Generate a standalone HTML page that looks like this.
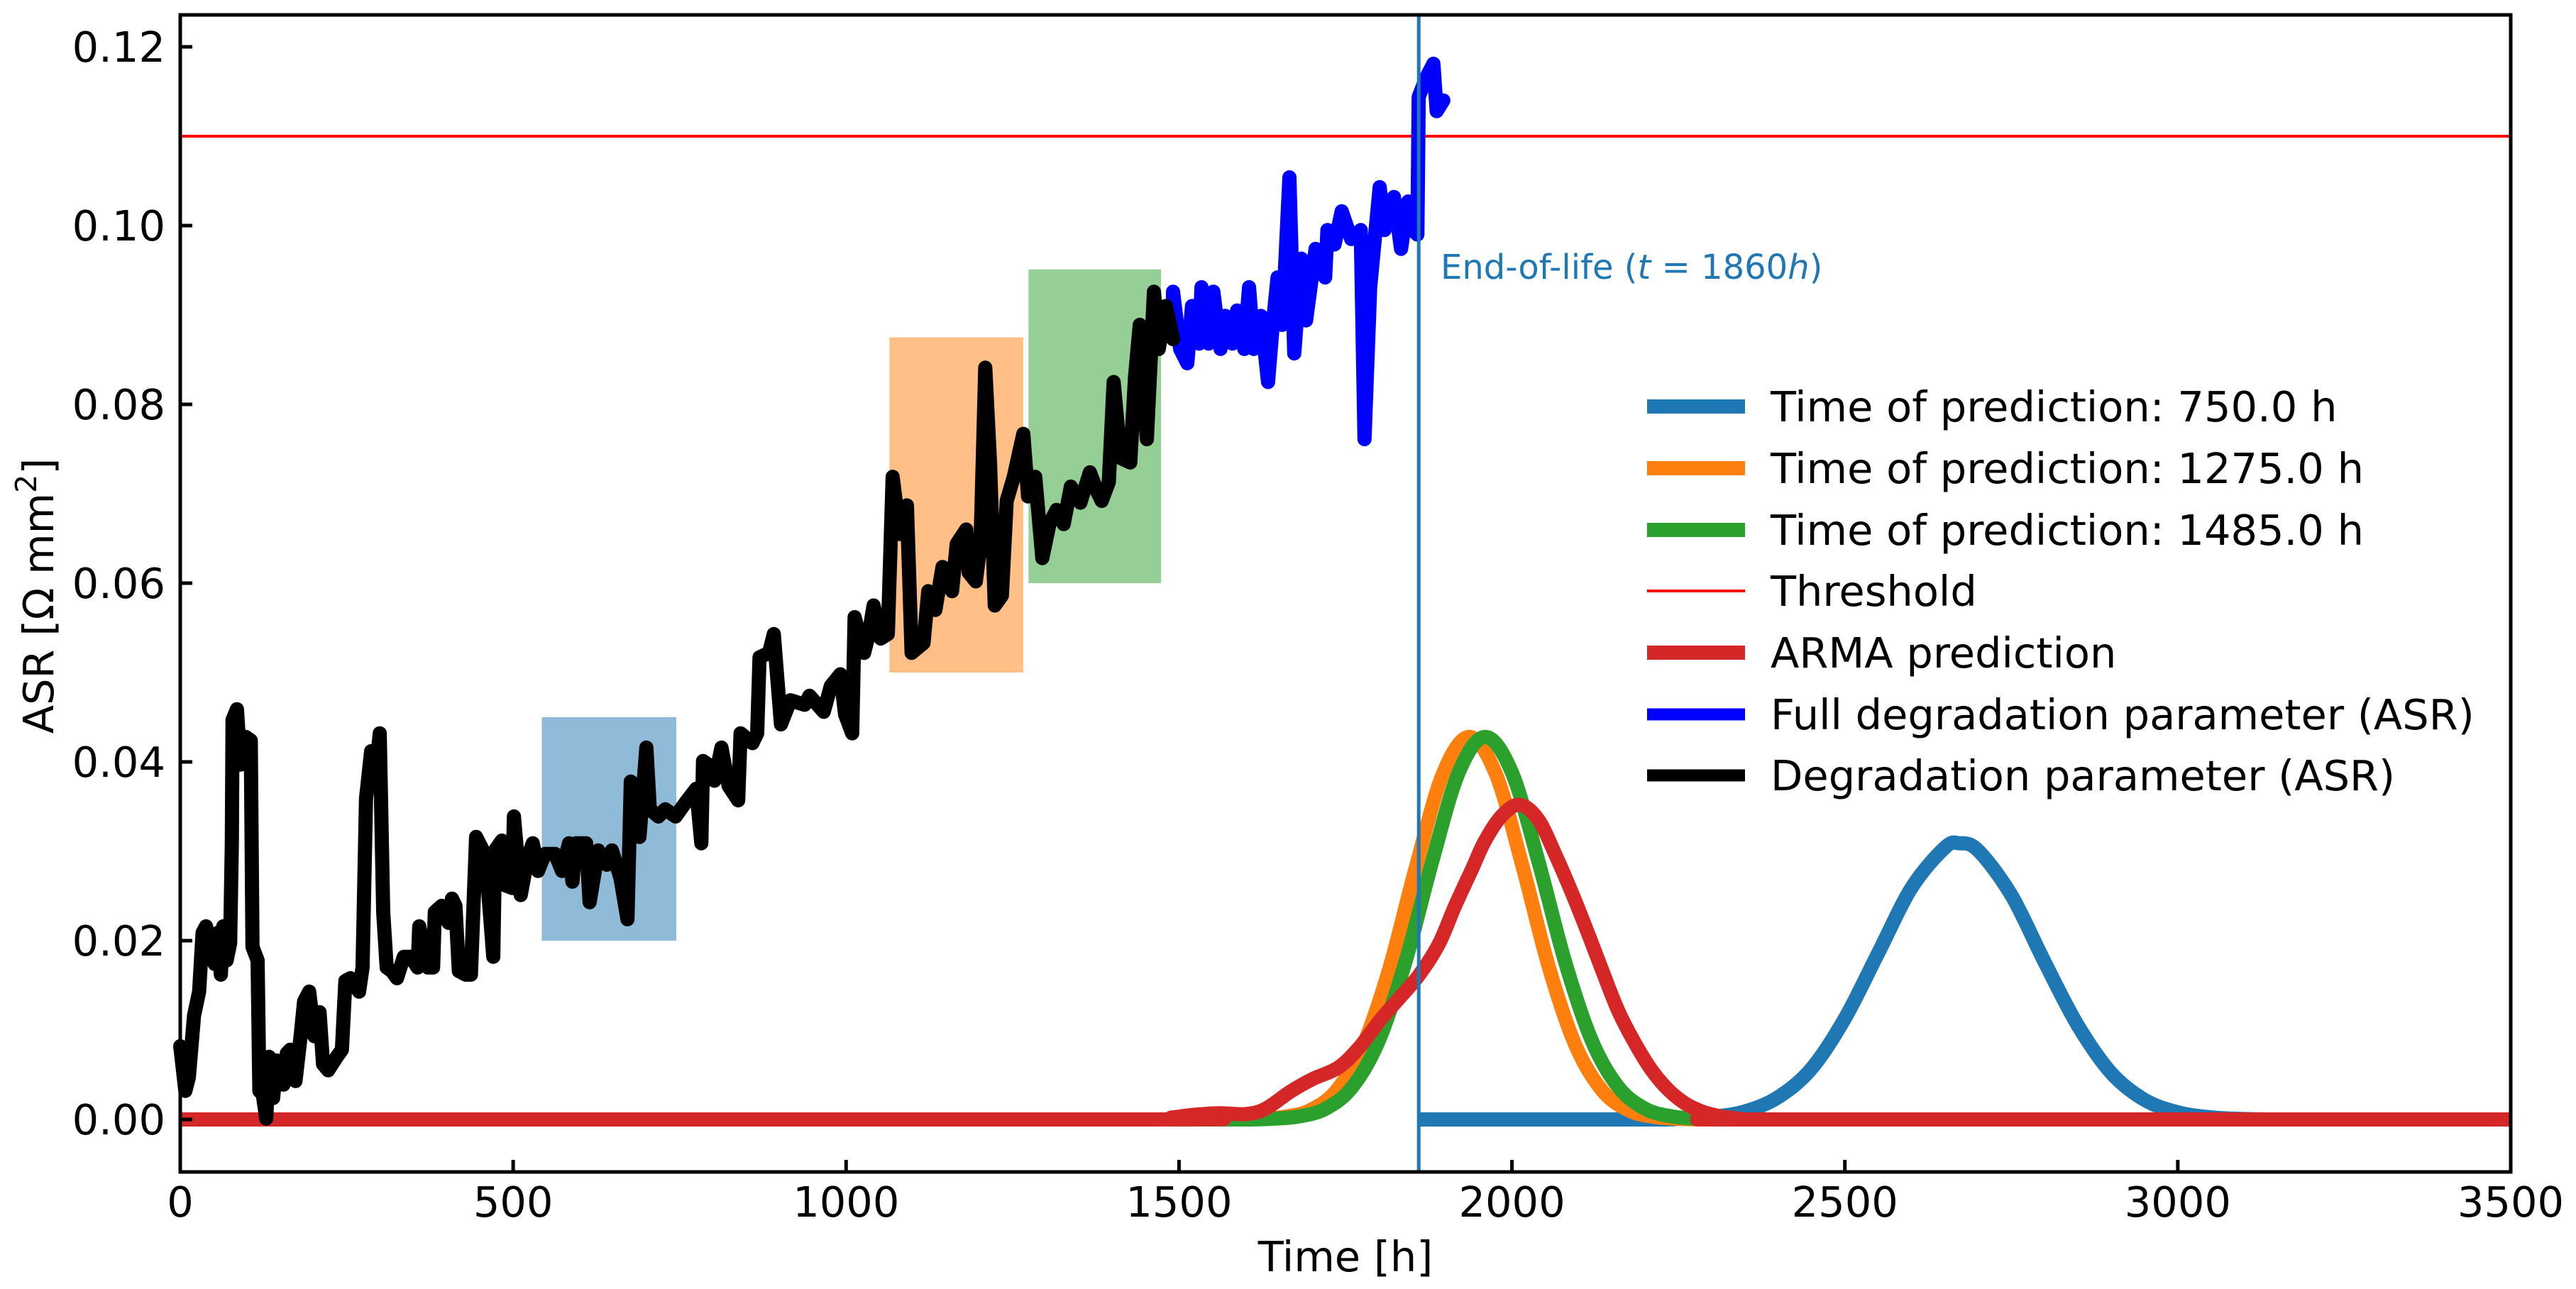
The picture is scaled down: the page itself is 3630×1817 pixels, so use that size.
<!DOCTYPE html>
<html><head><meta charset="utf-8"><title>ASR degradation prediction</title>
<style>
html,body{margin:0;padding:0;background:#fff;}
svg{display:block;font-family:"DejaVu Sans","Liberation Sans",sans-serif;}
</style></head>
<body>
<svg id="chart" width="3630" height="1817" viewBox="0 0 3630 1817" xmlns="http://www.w3.org/2000/svg">
<rect x="0" y="0" width="3630" height="1817" fill="#fff"/>
<g id="plot"></g>
<rect x="254" y="21" width="3284" height="1631" fill="none" stroke="#000" stroke-width="5"/>
<g id="axes"></g>
<text x="1896" y="1792" font-size="59" text-anchor="middle">Time [h]</text>
<text transform="translate(75,840) rotate(-90)" font-size="59" text-anchor="middle">ASR [Ω mm<tspan font-size="41" dy="-24">2</tspan><tspan dy="24">]</tspan></text>
<text x="2030" y="393" font-size="48" fill="#1f77b4">End-of-life (<tspan font-style="italic">t</tspan> = 1860<tspan font-style="italic">h</tspan>)</text>
<g id="legend"></g>
</svg>
<script>
// ---- data ----
const xTicks = [0,500,1000,1500,2000,2500,3000,3500];
const yTicks = [0,0.02,0.04,0.06,0.08,0.10,0.12];
const yTickLabels = ["0.00","0.02","0.04","0.06","0.08","0.10","0.12"];
const threshold = 0.11;
const endOfLife = 1860;
const windowStarts = [543,1065,1274];
const windowEnds = [745,1266,1473];
const windowLows = [0.020,0.050,0.060];
const windowHighs = [0.045,0.0875,0.0951];

const degT = [0,7.7,12.9,20.7,28.4,33.6,38.7,43.9,51.7,56.8,61,64.6,69.7,74.9,77.5,78.5,85.2,90.4,98.2,105.9,108.5,116.2,118.8,124,129.2,133.3,139.5,144.6,155,160.1,165.3,173.1,180.8,186,193.7,201.5,209.2,214.4,222.1,235.1,242.8,248,255.7,268.6,273.8,279,286.7,294.5,299.6,304.8,310,317.7,325.5,335.8,346.1,356.5,359,372,379.7,382.3,392.6,402.9,408.1,413.3,418.4,428.8,436.5,444.3,454.6,459.8,470.1,472.7,483,488.2,498.5,501.1,511.4,521.8,529.5,537.3,547.6,563.1,573.4,583.8,588.9,594.1,609.6,614.8,627.7,640.6,648.3,661.2,671.6,676.7,681.9,689.7,700,705.2,718.1,728.4,743.9,759.4,774.9,782.6,785.2,793,802.2,812.9,823.6,837.9,841.5,859.3,866.5,870,884.3,891.4,902.2,916.4,937.8,945,966.4,977.1,991.4,998.5,1009.2,1012.8,1027.1,1034.2,1041.3,1052,1062.7,1069.9,1080.6,1091.3,1098.4,1116.3,1123.4,1134.1,1144.8,1159.1,1166.2,1180.5,1184.1,1194.8,1201.9,1209,1216.2,1223.3,1234,1241.2,1251.9,1266.1,1273.3,1284,1294.7,1305.4,1316.1,1326.8,1337.5,1351.8,1366.1,1376.8,1383.9,1394.6,1401.8,1412.4,1426.7,1433.9,1441,1451.7,1462.4,1469.6,1480.3,1491];
const degV = [0.0082,0.0032,0.0047,0.0116,0.0143,0.0209,0.0216,0.0197,0.0174,0.0209,0.0162,0.0216,0.0178,0.0197,0.0309,0.0447,0.0459,0.0397,0.0428,0.0424,0.0193,0.0178,0.0032,0.0028,0.0001,0.0070,0.0024,0.0066,0.0039,0.0074,0.0078,0.0043,0.0093,0.0132,0.0143,0.0093,0.0120,0.0062,0.0055,0.0070,0.0078,0.0155,0.0158,0.0143,0.0170,0.0359,0.0412,0.0393,0.0432,0.0232,0.0170,0.0166,0.0158,0.0182,0.0182,0.0170,0.0216,0.0170,0.0170,0.0232,0.0239,0.0220,0.0247,0.0239,0.0166,0.0162,0.0162,0.0316,0.0301,0.0282,0.0182,0.0301,0.0312,0.0262,0.0259,0.0339,0.0251,0.0293,0.0309,0.0278,0.0297,0.0297,0.0278,0.0309,0.0266,0.0309,0.0309,0.0243,0.0301,0.0285,0.0301,0.0270,0.0224,0.0378,0.0347,0.0316,0.0416,0.0347,0.0339,0.0347,0.0339,0.0355,0.0370,0.0309,0.0401,0.0397,0.0379,0.0416,0.0373,0.0357,0.0432,0.0421,0.0432,0.0517,0.0522,0.0543,0.0442,0.0469,0.0464,0.0474,0.0456,0.0485,0.0498,0.0453,0.0432,0.0562,0.0522,0.0543,0.0575,0.0538,0.0543,0.0719,0.0655,0.0687,0.0522,0.0533,0.0591,0.0570,0.0618,0.0591,0.0644,0.0660,0.0612,0.0602,0.0644,0.0841,0.0735,0.0575,0.0586,0.0692,0.0719,0.0767,0.0697,0.0719,0.0628,0.0666,0.0682,0.0666,0.0708,0.0690,0.0724,0.0703,0.0692,0.0713,0.0825,0.0740,0.0735,0.0830,0.0889,0.0761,0.0926,0.0862,0.0910,0.0873];

const fullT = [1491,1491,1501.7,1512.4,1519.5,1530.2,1533.8,1544.5,1551.6,1562.3,1569.5,1580.2,1587.3,1598,1605.2,1612.3,1623,1633.7,1640.8,1648,1655.1,1665.8,1673,1683.7,1690.8,1705.1,1719.4,1722.9,1733.6,1744.3,1758.6,1772.9,1778.6,1787.1,1801.4,1808.6,1822.8,1833.5,1844.2,1851.4,1858,1860,1871,1882,1887,1897];
const fullV = [0.0873,0.0926,0.0862,0.0846,0.0910,0.0868,0.0931,0.0868,0.0926,0.0862,0.0899,0.0868,0.0905,0.0862,0.0931,0.0862,0.0899,0.0825,0.0889,0.0942,0.0889,0.1054,0.0857,0.0963,0.0894,0.0974,0.0942,0.0995,0.0979,0.1016,0.0985,0.0995,0.0761,0.0931,0.1043,0.0995,0.1032,0.0974,0.1027,0.0995,0.0990,0.1144,0.1165,0.1181,0.1128,0.1140];

const pred750T = [1860,2200,2250,2300,2350,2400,2450,2500,2550,2600,2650,2672,2700,2750,2800,2850,2900,2950,3000,3050,3100,3150,3277];
const pred750V = [0,0,0.00007,0.00028,0.0009,0.0025,0.0057,0.0113,0.0186,0.0259,0.0304,0.0309,0.0301,0.0251,0.0176,0.0105,0.0052,0.0022,0.0008,0.00023,0.00005,0,0];
const pred1275T = [1275,1576,1616,1656,1696,1736,1776,1816,1856,1896,1936,1976,2016,2056,2096,2136,2176,2216,2256,2296,2400];
const pred1275V = [0,0,0.00006,0.00027,0.0010,0.0032,0.0082,0.0169,0.0283,0.0386,0.0428,0.0386,0.0283,0.0169,0.0082,0.0032,0.0010,0.00027,0.00006,0,0];
const pred1485T = [1485,1600,1640,1680,1720,1760,1800,1840,1880,1920,1960,2000,2040,2080,2120,2160,2200,2240,2280,2320,2400];
const pred1485V = [0,0,0.00008,0.00034,0.0012,0.0036,0.0088,0.0176,0.0288,0.0388,0.0428,0.0388,0.0288,0.0176,0.0088,0.0036,0.0012,0.00034,0.00008,0,0];
const armaT = [0,1450,1488,1520,1560,1600,1630,1667,1700,1739,1770,1802,1830,1860,1890,1914,1940,1959,1985,2012,2040,2066,2092,2116,2138,2160,2185,2210,2235,2260,2285,2310,2340,2370,3500];
const armaV = [0,0,0.0002,0.0005,0.0007,0.0006,0.0012,0.0031,0.0045,0.0058,0.0080,0.0111,0.0135,0.0161,0.0196,0.0238,0.0280,0.0311,0.0340,0.0352,0.0335,0.0295,0.0250,0.0205,0.0162,0.0121,0.0085,0.0055,0.0033,0.0018,0.0009,0.0004,0.0001,0,0];

// ---- axes mapping ----
const X0=254, X1=3538, Y0=1578, PXPERV=12600;
const xs = t => X0 + (X1-X0)*t/3500;
const ys = v => Y0 - v*PXPERV;
const NS="http://www.w3.org/2000/svg";
const plot=document.getElementById('plot');
const axes=document.getElementById('axes');
const legend=document.getElementById('legend');

function mk(tag, attrs, parent){
  const e=document.createElementNS(NS,tag);
  for(const k in attrs) e.setAttribute(k,attrs[k]);
  parent.appendChild(e); return e;
}
function linePath(T,V){
  return T.map((t,i)=>(i?'L':'M')+xs(t).toFixed(1)+' '+ys(V[i]).toFixed(1)).join(' ');
}
function smoothPath(T,V){
  const P=T.map((t,i)=>[xs(t),ys(V[i])]);
  let d='M'+P[0][0].toFixed(1)+' '+P[0][1].toFixed(1);
  for(let i=0;i<P.length-1;i++){
    const p0=P[Math.max(0,i-1)],p1=P[i],p2=P[i+1],p3=P[Math.min(P.length-1,i+2)];
    let c1x=p1[0]+(p2[0]-p0[0])/6, c1y=p1[1]+(p2[1]-p0[1])/6;
    let c2x=p2[0]-(p3[0]-p1[0])/6, c2y=p2[1]-(p3[1]-p1[1])/6;
    const lo=Math.min(p1[1],p2[1]);
    if(p1[1]===p2[1]){c1y=p1[1];c2y=p2[1];}
    c1y=Math.min(Math.max(c1y,lo-40),Y0); c2y=Math.min(Math.max(c2y,lo-40),Y0);
    d+=' C'+c1x.toFixed(1)+' '+c1y.toFixed(1)+' '+c2x.toFixed(1)+' '+c2y.toFixed(1)+' '+p2[0].toFixed(1)+' '+p2[1].toFixed(1);
  }
  return d;
}

// windows
const winColors=['#1f77b4','#ff7f0e','#2ca02c'];
const winNames=['window-750h','window-1275h','window-1485h'];
for(let i=0;i<windowStarts.length;i++){
  const r=mk('rect',{x:xs(windowStarts[i]),y:ys(windowHighs[i]),width:xs(windowEnds[i])-xs(windowStarts[i]),height:ys(windowLows[i])-ys(windowHighs[i]),fill:winColors[i],'fill-opacity':0.5},plot);
  
  
}
// predictions
const p1=mk('path',{d:smoothPath(pred750T,pred750V),fill:'none',stroke:'#1f77b4','stroke-width':20,'stroke-linejoin':'round'},plot);


const p2=mk('path',{d:smoothPath(pred1275T,pred1275V),fill:'none',stroke:'#ff7f0e','stroke-width':20,'stroke-linejoin':'round'},plot);


const p3=mk('path',{d:smoothPath(pred1485T,pred1485V),fill:'none',stroke:'#2ca02c','stroke-width':20,'stroke-linejoin':'round'},plot);


const th=mk('line',{x1:X0,x2:X1,y1:ys(threshold),y2:ys(threshold),stroke:'#ff0000','stroke-width':4},plot);


const ar=mk('path',{d:smoothPath(armaT,armaV),fill:'none',stroke:'#d62728','stroke-width':20,'stroke-linejoin':'round'},plot);


const fl=mk('path',{d:linePath(fullT,fullV),fill:'none',stroke:'#0000ff','stroke-width':20,'stroke-linejoin':'round','stroke-linecap':'round'},plot);


const dg=mk('path',{d:linePath(degT,degV),fill:'none',stroke:'#000','stroke-width':20,'stroke-linejoin':'round','stroke-linecap':'round'},plot);


const vl=mk('line',{x1:xs(endOfLife),x2:xs(endOfLife),y1:21,y2:1652,stroke:'#1f77b4','stroke-width':5},plot);



// ticks
xTicks.forEach(t=>{
  const l=mk('line',{x1:xs(t),x2:xs(t),y1:1652,y2:1635,stroke:'#000','stroke-width':5},axes);
  
  
  const tx=mk('text',{x:xs(t),y:1715,'font-size':59,'text-anchor':'middle'},axes);
  tx.textContent=String(t);
  
  
});
yTicks.forEach((v,i)=>{
  const l=mk('line',{x1:254,x2:271,y1:ys(v),y2:ys(v),stroke:'#000','stroke-width':5},axes);
  
  
  const tx=mk('text',{x:233,y:ys(v)+21,'font-size':59,'text-anchor':'end'},axes);
  tx.textContent=yTickLabels[i];
  
  
});

// legend
const legLabels=['Time of prediction: 750.0 h','Time of prediction: 1275.0 h','Time of prediction: 1485.0 h','Threshold','ARMA prediction','Full degradation parameter (ASR)','Degradation parameter (ASR)'];
const legColors=['#1f77b4','#ff7f0e','#2ca02c','#ff0000','#d62728','#0000ff','#000000'];
const legWidths=[20,20,20,4,20,17,17];
const legRows=[573,660,747,833,920,1007,1093];
legLabels.forEach((lab,i)=>{
  const g=mk('g',{},legend);
  
  
  mk('line',{x1:2321,x2:2459,y1:legRows[i],y2:legRows[i],stroke:legColors[i],'stroke-width':legWidths[i]},g);
  const tx=mk('text',{x:2495,y:legRows[i]+21,'font-size':59},g);
  tx.textContent=lab;
});
</script>
</body></html>
